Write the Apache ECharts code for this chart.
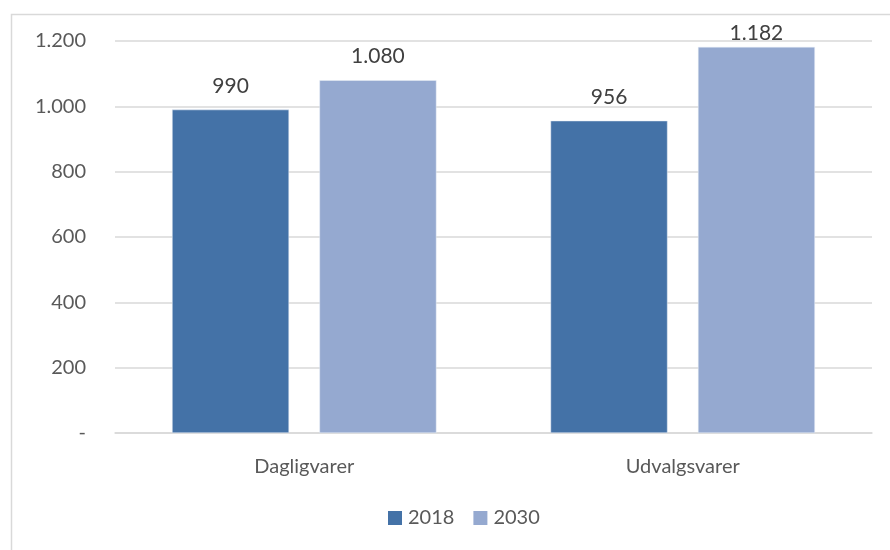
<!DOCTYPE html>
<html>
<head>
<meta charset="utf-8">
<script src="https://cdn.jsdelivr.net/npm/echarts@6/dist/echarts.min.js"></script>
<style>html,body{margin:0;padding:0;background:#fff;}#c{width:890px;height:550px;}</style>
</head>
<body>
<div id="c"></div>
<script>
const categories = ["Dagligvarer", "Udvalgsvarer"];
const seriesNames = ["2018", "2030"];
const values2018 = [990, 956];
const values2030 = [1080, 1182];
const yTicks = [0, 200, 400, 600, 800, 1000, 1200];

function fmt(v) {
  if (v === 0) return "-";
  return String(Math.round(v)).replace(/\B(?=(\d{3})+(?!\d))/g, ".");
}
const font = "Lato, 'Open Sans', sans-serif";
const yMax = yTicks[yTicks.length - 1];
// labels near the top of the plot are pulled closer to the bar (as in the original)
function items(vals) {
  return vals.map(v => ({ value: v, label: { distance: v > yMax - 60 ? 3 : 13 } }));
}
const chart = echarts.init(document.getElementById('c'));
chart.setOption({
  animation: false,
  graphic: [{
    type: 'rect', left: 9, top: 12,
    shape: { width: 900, height: 600 },
    style: { fill: 'none', stroke: '#d9d9d9', lineWidth: 1.5 }
  }],
  grid: { left: 115, right: 18, top: 41, bottom: 117 },
  legend: {
    bottom: 17, left: 383,
    itemWidth: 14, itemHeight: 14, itemGap: 19, itemStyle: { borderWidth: 0 },
    icon: 'rect',
    textStyle: { color: '#595959', fontSize: 20, fontFamily: font, padding: [0, 0, 0, 1] },
    data: seriesNames
  },
  xAxis: {
    type: 'category', data: categories,
    axisLine: { lineStyle: { color: '#d9d9d9', width: 1.5 } },
    axisTick: { show: false },
    axisLabel: { color: '#595959', fontSize: 20, fontFamily: font, margin: 24 }
  },
  yAxis: {
    type: 'value', min: yTicks[0], max: yMax, interval: 200,
    axisLine: { show: false }, axisTick: { show: false },
    splitLine: { lineStyle: { color: '#d9d9d9', width: 1.5 } },
    axisLabel: { color: '#595959', fontSize: 20, fontFamily: font, margin: 29, formatter: fmt }
  },
  series: [
    {
      name: seriesNames[0], type: 'bar', data: items(values2018),
      barWidth: 117, barGap: '26%',
      itemStyle: { color: '#4472a7', borderColor: '#e8eef6', borderWidth: 0.5 },
      label: { show: true, position: 'top', color: '#404040', fontSize: 21, fontFamily: font, formatter: p => fmt(p.value) }
    },
    {
      name: seriesNames[1], type: 'bar', data: items(values2030),
      barWidth: 117,
      itemStyle: { color: '#95a9d0', borderColor: '#e8eef6', borderWidth: 0.5 },
      label: { show: true, position: 'top', color: '#404040', fontSize: 21, fontFamily: font, formatter: p => fmt(p.value) }
    }
  ]
});
</script>
</body>
</html>
